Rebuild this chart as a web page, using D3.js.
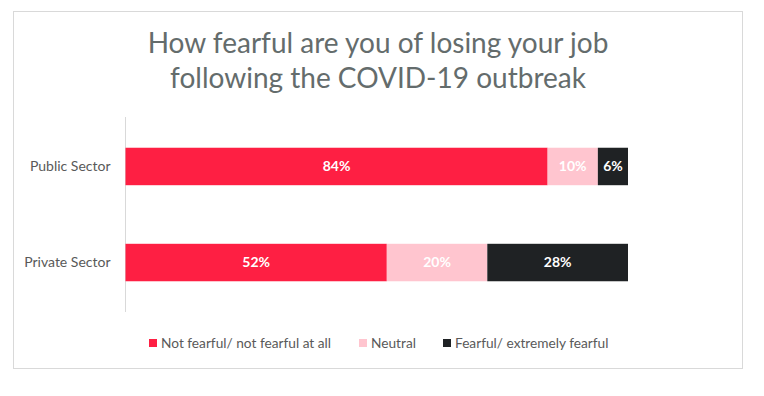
<!DOCTYPE html>
<html>
<head>
<meta charset="utf-8">
<script src="https://cdn.jsdelivr.net/npm/d3@7"></script>
<style>
  body { margin: 0; background: #fff; }
</style>
</head>
<body>
<div id="chart"></div>
<script>
const width = 764;
const height = 396;

const categories = ["Public Sector", "Private Sector"];
const seriesNames = ["Not fearful/ not fearful at all", "Neutral", "Fearful/ extremely fearful"];
const notFearful = [84, 52];
const neutral = [10, 20];
const fearful = [6, 28];

const colors = ["#FE1F43", "#FFC5CF", "#1F2224"];
const labelColors = ["#ffffff", "#ffffff", "#ffffff"];

const rows = categories.map((c, i) => ({
  category: c,
  s0: notFearful[i],
  s1: neutral[i],
  s2: fearful[i]
}));

const stack = d3.stack().keys(["s0", "s1", "s2"]);
const series = stack(rows);

const svg = d3
  .select("#chart")
  .append("svg")
  .attr("width", width)
  .attr("height", height);

// outer frame
svg.append("rect")
  .attr("x", 13.5)
  .attr("y", 11.5)
  .attr("width", 729)
  .attr("height", 357)
  .attr("fill", "#fff")
  .attr("stroke", "#d9d9d9");

// TITLE
const title = svg.append("text")
  .attr("text-anchor", "middle")
  .attr("fill", "#646C6C")
  .style("font-family", "Lato")
  .style("font-size", "28px");
title.append("tspan").attr("x", 378).attr("y", 53).text("How fearful are you of losing your job");
title.append("tspan").attr("x", 378).attr("y", 88).text("following the COVID-19 outbreak");

// SCALES
const x = d3.scaleLinear().domain([0, 100]).range([125.5, 628]);
const y = d3.scaleBand()
  .domain(categories)
  .range([117, 312])
  .paddingInner(0.61)
  .paddingOuter(0.32);

// category axis
const yAxis = svg.append("g")
  .attr("transform", `translate(${x(0)},0)`)
  .call(d3.axisLeft(y).tickSize(0).tickPadding(15));
yAxis.select(".domain").attr("stroke", "#d9d9d9").attr("d", "M0,117V312");
yAxis.selectAll("text")
  .attr("fill", "#595959")
  .style("font-family", "Lato")
  .style("font-size", "14px");

// BARS
const layers = svg.append("g")
  .selectAll("g")
  .data(series)
  .join("g")
  .attr("fill", (d, i) => colors[i]);

layers.selectAll("rect")
  .data(d => d)
  .join("rect")
  .attr("x", d => x(d[0]))
  .attr("y", d => y(d.data.category))
  .attr("width", d => x(d[1]) - x(d[0]))
  .attr("height", y.bandwidth());

// value labels
svg.append("g")
  .selectAll("g")
  .data(series)
  .join("g")
  .attr("fill", (d, i) => labelColors[i])
  .selectAll("text")
  .data(d => d)
  .join("text")
  .attr("x", d => (x(d[0]) + x(d[1])) / 2)
  .attr("y", d => y(d.data.category) + y.bandwidth() / 2)
  .attr("dy", "0.35em")
  .attr("text-anchor", "middle")
  .style("font-family", "Lato")
  .style("font-weight", "bold")
  .style("font-size", "14px")
  .text(d => (d[1] - d[0]) + "%");

// LEGEND
const legendX = [149, 359, 443];
const legend = svg.append("g")
  .selectAll("g")
  .data(seriesNames)
  .join("g")
  .attr("transform", (d, i) => `translate(${legendX[i]},339)`);

legend.append("rect")
  .attr("width", 8)
  .attr("height", 8)
  .attr("fill", (d, i) => colors[i]);

legend.append("text")
  .attr("x", 12)
  .attr("y", 8.5)
  .attr("fill", "#595959")
  .style("font-family", "Lato")
  .style("font-size", "13.7px")
  .text(d => d);
</script>
</body>
</html>
